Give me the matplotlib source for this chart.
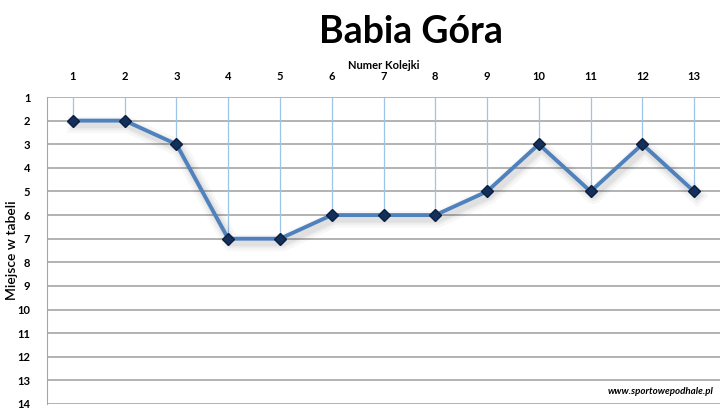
#!/usr/bin/env python3

import matplotlib
matplotlib.use("Agg")
import matplotlib.pyplot as plt
import matplotlib.patheffects as pe

rounds = list(range(1, 14))
places = [2, 2, 3, 7, 7, 6, 6, 6, 5, 3, 5, 3, 5]
place_ticks = list(range(1, 15))

plt.rcParams["font.family"] = ["Lato", "DejaVu Sans"]

fig = plt.figure(figsize=(7.25, 4.18), dpi=100)
ax = fig.add_axes([47 / 725, 1 - 404 / 418, 673 / 725, 307 / 418])

# drop lines from the top edge down to each point
ax.vlines(rounds, 1, places, color="#9DC3E6", lw=0.9, zorder=1)

# soft shadow: a few wide faint strokes
shadow = [pe.SimpleLineShadow(offset=(2, -3), shadow_color="#000000", alpha=a, linewidth=w)
          for a, w in [(0.03, 12), (0.04, 8), (0.05, 5)]]
ax.plot(rounds, places, color="#4F81BD", lw=2.8, zorder=3,
        path_effects=shadow + [pe.Normal()])
ax.plot(rounds, places, ls="none", marker="D", ms=6, color="#13305A",
        mec="#0B1F3F", zorder=4)

ax.set_xlim(0.5, 13.5)
ax.set_ylim(14, 1)
ax.set_yticks(place_ticks)
ax.set_xticks(rounds)
ax.yaxis.grid(True, color="#A6A6A6", lw=1.2)
ax.set_axisbelow(True)
ax.xaxis.tick_top()
ax.xaxis.set_label_position("top")
ax.tick_params(axis="both", length=0, labelsize=8)
ax.tick_params(axis="x", pad=11)
ax.tick_params(axis="y", pad=12)
for lbl in ax.get_xticklabels() + ax.get_yticklabels():
    lbl.set_fontweight("bold")

for s in ["top", "right", "bottom"]:
    ax.spines[s].set_visible(False)
ax.spines["left"].set_color("#A6A6A6")

ax.set_xlabel("Numer Kolejki", fontsize=8, fontweight="bold", labelpad=1)
fig.text(12 / 725, 1 - 250 / 418, "Miejsce w tabeli", rotation=90,
         ha="center", va="center", fontsize=10, fontweight="semibold")

fig.text(411 / 725, 1 - 32 / 418, "Babia Góra", ha="center", va="center",
         fontsize=27, fontweight="bold")
fig.text(714 / 725, 1 - 392 / 418, "www.sportowepodhale.pl", ha="right", va="center",
         fontsize=7, fontweight="bold", style="italic")

fig.savefig("out.png", dpi=100)
